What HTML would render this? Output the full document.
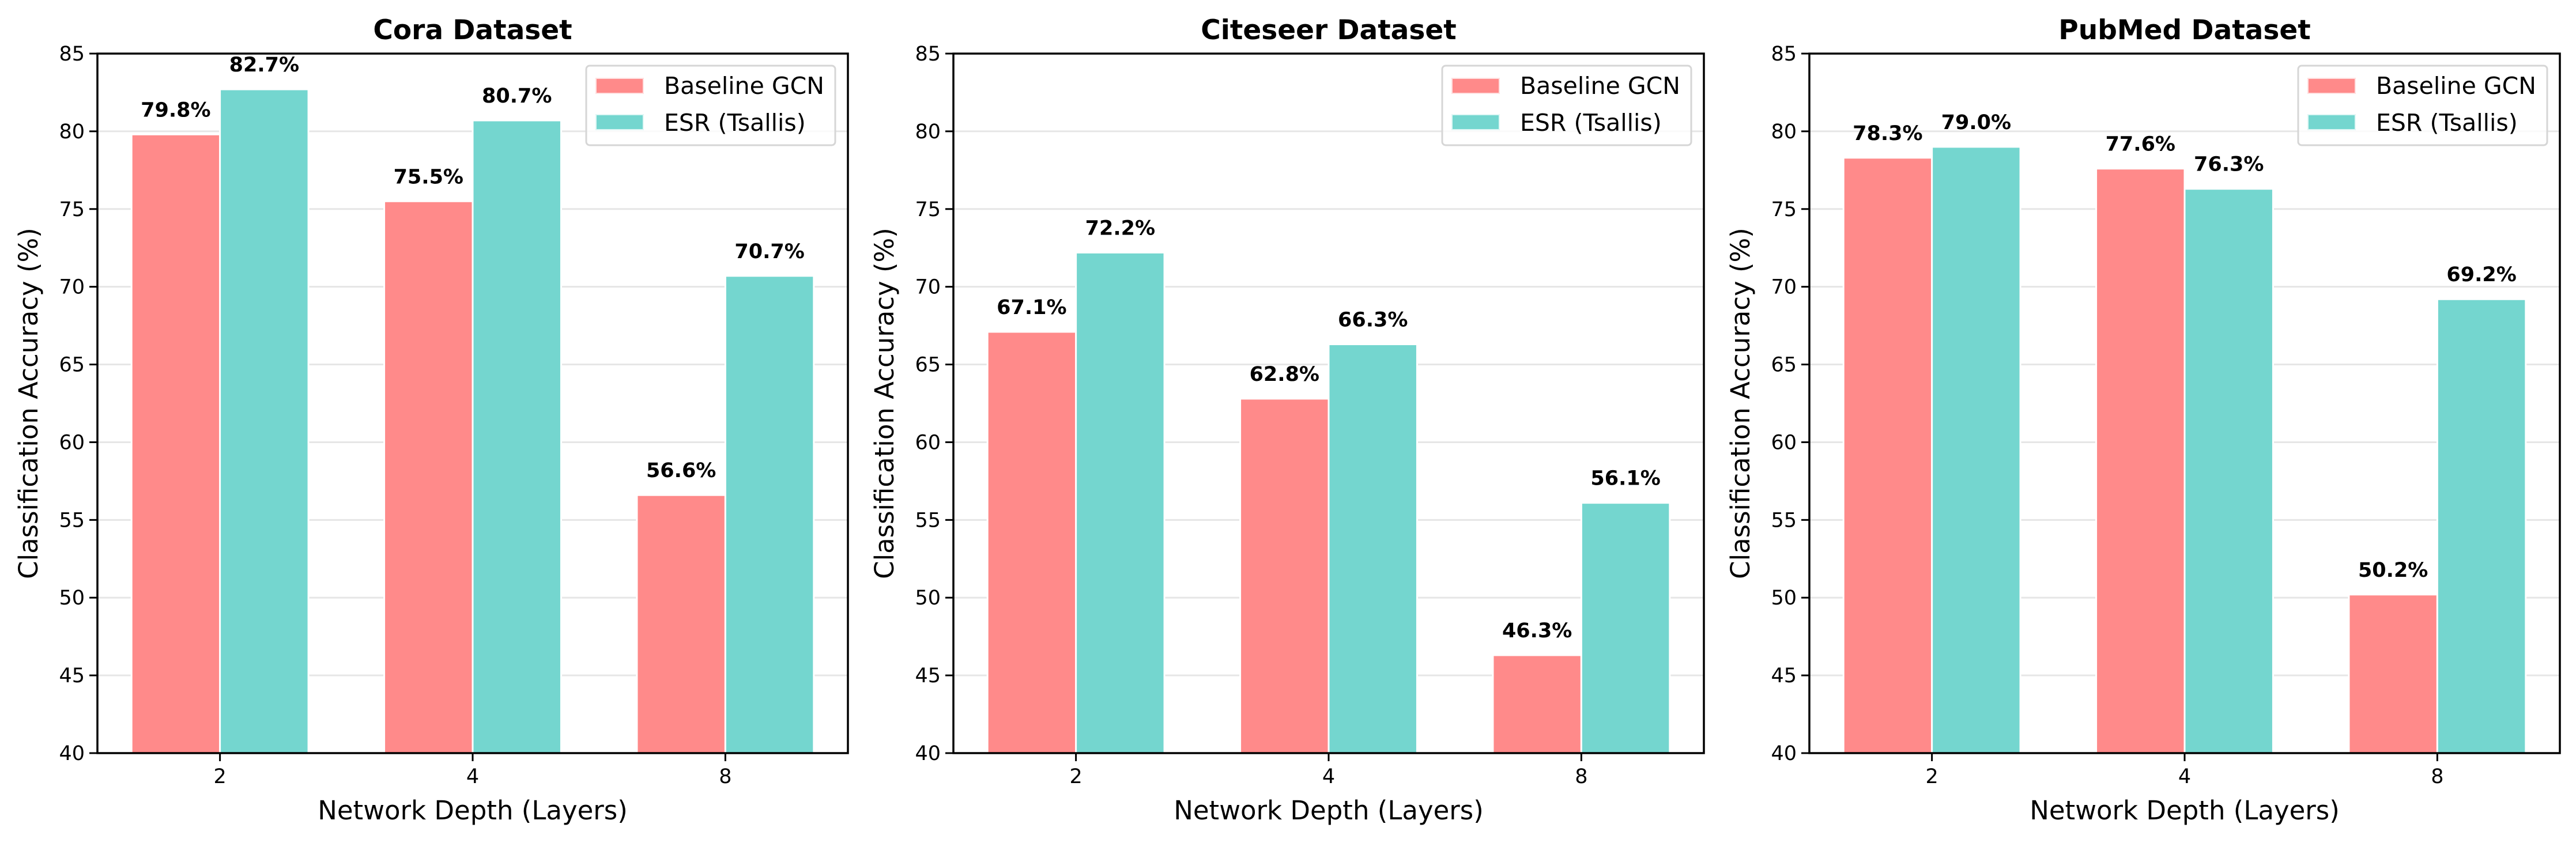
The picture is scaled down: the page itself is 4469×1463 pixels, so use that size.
<!DOCTYPE html>
<html><head><meta charset="utf-8"><style>
html,body{margin:0;padding:0;background:#fff;}
svg{display:block;font-family:"DejaVu Sans","Liberation Sans",sans-serif;}
</style></head><body>
<svg id="fig" width="4469" height="1463" viewBox="0 0 4469 1463" xmlns="http://www.w3.org/2000/svg"></svg>
<script>
const datasets = ["Cora Dataset", "Citeseer Dataset", "PubMed Dataset"];
const categories = ["2", "4", "8"];
const baselineCora = [79.8, 75.5, 56.6];
const esrCora = [82.7, 80.7, 70.7];
const baselineCiteseer = [67.1, 62.8, 46.3];
const esrCiteseer = [72.2, 66.3, 56.1];
const baselinePubmed = [78.3, 77.6, 50.2];
const esrPubmed = [79.0, 76.3, 69.2];
const yTicks = [40, 45, 50, 55, 60, 65, 70, 75, 80, 85];
const seriesNames = ["Baseline GCN", "ESR (Tsallis)"];

const baselines = [baselineCora, baselineCiteseer, baselinePubmed];
const esrs = [esrCora, esrCiteseer, esrPubmed];
const colors = ["#FF8A8A", "#74D6CF"];
const NS = "http://www.w3.org/2000/svg";
const svg = document.getElementById('fig');
function mk(tag, attrs, parent, text) {
  const e = document.createElementNS(NS, tag);
  for (const k in attrs) e.setAttribute(k, attrs[k]);
  if (text !== undefined) e.textContent = text;
  parent.appendChild(e);
  return e;
}
const axTop = 93, axBot = 1307, axW = 1302;
const lefts = [169, 1654, 3139];
const yMin = 40, yMax = 85, xMin = -0.485, xMax = 2.485, bw = 0.35;

datasets.forEach((title, d) => {
  const L = lefts[d];
  const g = mk('g', {}, svg);
  
  
  const y = v => axBot - (v - yMin) / (yMax - yMin) * (axBot - axTop);
  const x = v => L + (v - xMin) / (xMax - xMin) * axW;
  yTicks.forEach(t => {
    const ln = mk('line', {x1: L, x2: L + axW, y1: y(t), y2: y(t), stroke: '#e6e6e6', 'stroke-width': 3}, g);
    
    
  });
  [baselines[d], esrs[d]].forEach((vals, s) => {
    vals.forEach((v, i) => {
      const cx = i + (s === 0 ? -bw / 2 : bw / 2);
      const r = mk('rect', {x: x(cx - bw / 2), y: y(v), width: x(cx + bw / 2) - x(cx - bw / 2), height: y(yMin) - y(v), fill: colors[s], stroke: '#fff', 'stroke-width': 3}, g);
      
      
      const t = mk('text', {x: x(cx), y: y(v) - 31, 'text-anchor': 'middle', 'font-size': 35, 'font-weight': 'bold', fill: '#000'}, g, v.toFixed(1) + '%');
      
      
    });
  });
  const fr = mk('rect', {x: L, y: axTop, width: axW, height: axBot - axTop, fill: 'none', stroke: '#000', 'stroke-width': 3.5}, g);
  
  
  yTicks.forEach(t => {
    mk('line', {x1: L - 14, x2: L, y1: y(t), y2: y(t), stroke: '#000', 'stroke-width': 3}, g);
    const tl = mk('text', {x: L - 22, y: y(t) + 12, 'text-anchor': 'end', 'font-size': 35}, g, String(t));
    
    
  });
  categories.forEach((c, i) => {
    mk('line', {x1: x(i), x2: x(i), y1: axBot, y2: axBot + 14, stroke: '#000', 'stroke-width': 3}, g);
    const tl = mk('text', {x: x(i), y: axBot + 52, 'text-anchor': 'middle', 'font-size': 35}, g, c);
    
    
  });
  const ti = mk('text', {x: L + axW / 2, y: 68, 'text-anchor': 'middle', 'font-size': 47, 'font-weight': 'bold'}, g, title);
  
  
  const xl = mk('text', {x: L + axW / 2, y: 1422, 'text-anchor': 'middle', 'font-size': 45}, g, 'Network Depth (Layers)');
  
  
  const yx = L - 104, yy = (axTop + axBot) / 2;
  const yl = mk('text', {x: yx, y: yy, 'text-anchor': 'middle', 'font-size': 45, transform: `rotate(-90 ${yx} ${yy})`}, g, 'Classification Accuracy (%)');
  
  
  const lg = mk('g', {}, g);
  
  
  const lx = L + axW - 454;
  mk('rect', {x: lx, y: 114, width: 432, height: 138, rx: 6, fill: 'rgba(255,255,255,0.8)', stroke: '#d6d6d6', 'stroke-width': 3}, lg);
  seriesNames.forEach((n, s) => {
    const e = mk('g', {}, lg);
    
    
    mk('rect', {x: lx + 17, y: 136 + s * 63, width: 82, height: 26, fill: colors[s], stroke: s === 0 ? '#ffe0e0' : '#e0f7f5', 'stroke-width': 2}, e);
    mk('text', {x: lx + 135, y: 163 + s * 64, 'font-size': 41}, e, n);
  });
});
</script>
</body></html>
